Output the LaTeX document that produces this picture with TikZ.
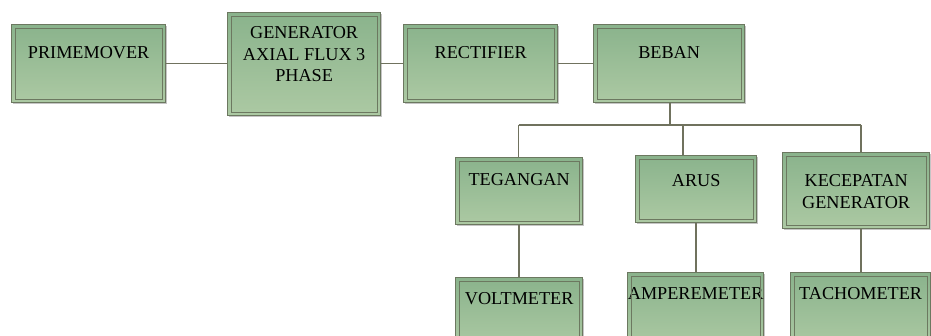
\documentclass[tikz,border=0pt]{standalone}
\usepackage{fontspec}
\setmainfont{Liberation Serif}
\usetikzlibrary{shadows}
\definecolor{bord}{RGB}{108,120,96}
\definecolor{gA}{RGB}{138,179,140}
\definecolor{gB}{RGB}{172,201,163}
\definecolor{wire}{RGB}{112,114,94}
\tikzset{
 box/.style={draw=bord, line width=1.3pt, top color=gA, bottom color=gB, inner sep=0pt, anchor=north west,
   drop shadow={shadow xshift=1.5pt,shadow yshift=-1.5pt,fill=black!45,opacity=.5}},
 wirel/.style={draw=wire, line width=1.4pt},
 innerb/.style={draw=bord, line width=0.9pt}
}
\newcommand{\bxt}[4]{\parbox[c][#2pt][t]{#1pt}{\centering\fontsize{18.2}{21.5}\selectfont\rule{0pt}{#3pt}#4}}
\begin{document}
\begin{tikzpicture}[x=1pt,y=1pt]
\useasboundingbox (0,0) rectangle (931,-336);
\clip (0,0) rectangle (931,-336);
\node[box] (pm) at (11,-24) {\bxt{154}{78}{34}{PRIMEMOVER}};
\node[box] (gen) at (227,-12) {\bxt{153}{103}{26}{GENERATOR\\AXIAL FLUX 3\\PHASE}};
\node[box] (rect) at (403,-24) {\bxt{154}{78}{34}{RECTIFIER}};
\node[box] (beban) at (593,-24) {\bxt{151}{78}{34}{BEBAN}};
\node[box] (teg) at (455,-157) {\bxt{127}{67}{28}{TEGANGAN}};
\node[box] (arus) at (635,-155) {\bxt{121}{67}{31}{ARUS}};
\node[box] (kec) at (782,-152) {\bxt{147}{76}{34}{KECEPATAN\\GENERATOR}};
\node[box] (volt) at (455,-277) {\bxt{127}{70}{27}{VOLTMETER}};
\node[box] (amp) at (627,-272) {\bxt{136}{75}{27}{AMPEREMETER}};
\node[box] (tach) at (790,-272) {\bxt{140}{75}{27}{TACHOMETER}};
\foreach \n in {pm,gen,rect,beban,teg,arus,kec,volt,amp,tach}
  \draw[innerb] ([shift={(4pt,-4pt)}]\n.north west) rectangle ([shift={(-4pt,4pt)}]\n.south east);
\draw[wirel] (pm.east) -- (pm.east -| gen.west);
\draw[wirel] (gen.east |- rect.west) -- (rect.west);
\draw[wirel] (rect.east) -- (beban.west);
\coordinate (jb) at (670,-125);
\coordinate (jt) at (518.5,-125);
\coordinate (ja) at (683,-125);
\coordinate (jk) at (861,-125);
\draw[wirel] (jb |- beban.south) -- (jb);
\draw[wirel] (jt) -- (jk);
\draw[wirel] (jt) -- (jt |- teg.north);
\draw[wirel] (ja) -- (ja |- arus.north);
\draw[wirel] (jk) -- (jk |- kec.north);
\draw[wirel] (teg.south) -- (teg.south |- volt.north);
\draw[wirel] (arus.south) -- (arus.south |- amp.north);
\draw[wirel] (jk |- kec.south) -- (jk |- tach.north);
\end{tikzpicture}
\end{document}
